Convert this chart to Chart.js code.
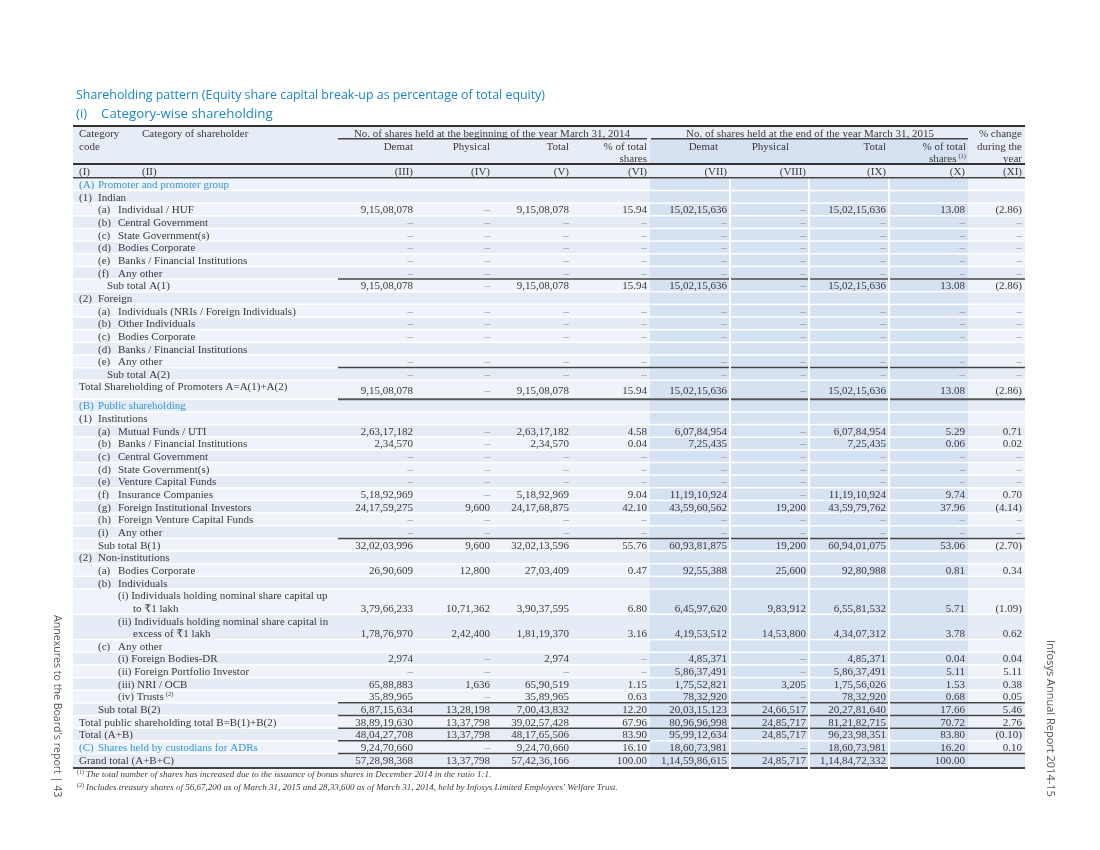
<!DOCTYPE html>
<html>
<head>
<meta charset="utf-8">
<title>Shareholding pattern</title>
<script src="https://cdn.jsdelivr.net/npm/chart.js@4.4.0/dist/chart.umd.min.js"></script>
<style>
  html, body { margin: 0; padding: 0; background: #fff; }
  #table { display: block; }
</style>
</head>
<body>
<canvas id="table" width="1100" height="850"></canvas>
<script>
const D = '–';

// row captions (category of shareholder)
const rowCodes = ['(A)','(1)','(a)','(b)','(c)','(d)','(e)','(f)','','(2)','(a)','(b)','(c)','(d)','(e)','','',
  '(B)','(1)','(a)','(b)','(c)','(d)','(e)','(f)','(g)','(h)','(i)','','(2)','(a)','(b)','','','(c)',
  '','','','','','','','(C)',''];
const rowLabels = ['Promoter and promoter group','Indian','Individual / HUF','Central Government',
  'State Government(s)','Bodies Corporate','Banks / Financial Institutions','Any other','Sub total A(1)',
  'Foreign','Individuals (NRIs / Foreign Individuals)','Other Individuals','Bodies Corporate',
  'Banks / Financial Institutions','Any other','Sub total A(2)','Total Shareholding of Promoters A=A(1)+A(2)',
  'Public shareholding','Institutions','Mutual Funds / UTI','Banks / Financial Institutions',
  'Central Government','State Government(s)','Venture Capital Funds','Insurance Companies',
  'Foreign Institutional Investors','Foreign Venture Capital Funds','Any other','Sub total B(1)',
  'Non-institutions','Bodies Corporate','Individuals',
  '(i) Individuals holding nominal share capital up\nto ₹1 lakh',
  '(ii) Individuals holding nominal share capital in\nexcess of ₹1 lakh',
  'Any other','(i) Foreign Bodies-DR','(ii) Foreign Portfolio Investor','(iii) NRI / OCB','(iv) Trusts',
  'Sub total B(2)','Total public shareholding total B=B(1)+B(2)','Total (A+B)',
  'Shares held by custodians for ADRs','Grand total (A+B+C)'];

// No. of shares held at the beginning of the year March 31, 2014
const demat14 = [null,null,'9,15,08,078',D,D,D,D,D,
  '9,15,08,078',null,D,D,D,null,D,D,
  '9,15,08,078',null,null,'2,63,17,182','2,34,570',D,D,D,
  '5,18,92,969','24,17,59,275',D,D,'32,02,03,996',null,'26,90,609',null,
  '3,79,66,233','1,78,76,970',null,'2,974',D,'65,88,883','35,89,965','6,87,15,634',
  '38,89,19,630','48,04,27,708','9,24,70,660','57,28,98,368'];
const phys14 = [null,null,D,D,D,D,D,D,
  D,null,D,D,D,null,D,D,
  D,null,null,D,D,D,D,D,
  D,'9,600',D,D,'9,600',null,'12,800',null,
  '10,71,362','2,42,400',null,D,D,'1,636',D,'13,28,198',
  '13,37,798','13,37,798',D,'13,37,798'];
const total14 = [null,null,'9,15,08,078',D,D,D,D,D,
  '9,15,08,078',null,D,D,D,null,D,D,
  '9,15,08,078',null,null,'2,63,17,182','2,34,570',D,D,D,
  '5,18,92,969','24,17,68,875',D,D,'32,02,13,596',null,'27,03,409',null,
  '3,90,37,595','1,81,19,370',null,'2,974',D,'65,90,519','35,89,965','7,00,43,832',
  '39,02,57,428','48,17,65,506','9,24,70,660','57,42,36,166'];
const pct14 = [null,null,'15.94',D,D,D,D,D,
  '15.94',null,D,D,D,null,D,D,
  '15.94',null,null,'4.58','0.04',D,D,D,
  '9.04','42.10',D,D,'55.76',null,'0.47',null,
  '6.80','3.16',null,D,D,'1.15','0.63','12.20',
  '67.96','83.90','16.10','100.00'];

// No. of shares held at the end of the year March 31, 2015
const demat15 = [null,null,'15,02,15,636',D,D,D,D,D,
  '15,02,15,636',null,D,D,D,null,D,D,
  '15,02,15,636',null,null,'6,07,84,954','7,25,435',D,D,D,
  '11,19,10,924','43,59,60,562',D,D,'60,93,81,875',null,'92,55,388',null,
  '6,45,97,620','4,19,53,512',null,'4,85,371','5,86,37,491','1,75,52,821','78,32,920','20,03,15,123',
  '80,96,96,998','95,99,12,634','18,60,73,981','1,14,59,86,615'];
const phys15 = [null,null,D,D,D,D,D,D,
  D,null,D,D,D,null,D,D,
  D,null,null,D,D,D,D,D,
  D,'19,200',D,D,'19,200',null,'25,600',null,
  '9,83,912','14,53,800',null,D,D,'3,205',D,'24,66,517',
  '24,85,717','24,85,717',D,'24,85,717'];
const total15 = [null,null,'15,02,15,636',D,D,D,D,D,
  '15,02,15,636',null,D,D,D,null,D,D,
  '15,02,15,636',null,null,'6,07,84,954','7,25,435',D,D,D,
  '11,19,10,924','43,59,79,762',D,D,'60,94,01,075',null,'92,80,988',null,
  '6,55,81,532','4,34,07,312',null,'4,85,371','5,86,37,491','1,75,56,026','78,32,920','20,27,81,640',
  '81,21,82,715','96,23,98,351','18,60,73,981','1,14,84,72,332'];
const pct15 = [null,null,'13.08',D,D,D,D,D,
  '13.08',null,D,D,D,null,D,D,
  '13.08',null,null,'5.29','0.06',D,D,D,
  '9.74','37.96',D,D,'53.06',null,'0.81',null,
  '5.71','3.78',null,'0.04','5.11','1.53','0.68','17.66',
  '70.72','83.80','16.20','100.00'];

// % change during the year
const change = [null,null,'(2.86)',D,D,D,D,D,
  '(2.86)',null,D,D,D,null,D,D,
  '(2.86)',null,null,'0.71','0.02',D,D,D,
  '0.70','(4.14)',D,D,'(2.70)',null,'0.34',null,
  '(1.09)','0.62',null,'0.04','5.11','0.38','0.05','5.46',
  '2.76','(0.10)','0.10',null];

const colNumbers = ['(I)','(II)','(III)','(IV)','(V)','(VI)','(VII)','(VIII)','(IX)','(X)','(XI)'];

// ---------- layout ----------
const valueCols = [demat14, phys14, total14, pct14, demat15, phys15, total15, pct15, change];
const colRight = [413, 490, 569, 647, 727, 806, 886, 965, 1022];
const shadeCols = [[650, 730], [730, 809], [809, 889], [889, 968]];
const rowLevel = [0,0,1,1,1,1,1,1,'sa',0,1,1,1,1,1,'sa','t',0,0,1,1,1,1,1,1,1,1,1,'sb',
  0,1,1,2,2,1,2,2,2,2,'sb','t','t',0,'t'];
const blueRows = [0, 17, 42];
const rowHeights = rowLabels.map((_, i) => i === 16 ? 1.5 : (i === 32 || i === 33 ? 2 : (i === 43 ? 1.15 : 1)));
const HEAD = 4.1;
const rowTop = [];
let acc = HEAD;
rowHeights.forEach(h => { rowTop.push(acc); acc += h; });
const Y_MAX = acc;
function rowMid(i) {
  const h = rowHeights[i];
  return i === 43 ? rowTop[i] + 0.5 : rowTop[i] + h / 2;
}
function valueY(i) {
  return rowHeights[i] === 2 ? rowTop[i] + 1.5 : rowMid(i);
}

const FS = 11;
const SERIF = '"Liberation Serif", "DejaVu Serif", serif';
const SANS = '"Open Sans", "Noto Sans", sans-serif';
const TXT = '#3a3a3a';
const DASH = '#8a8a8a';
const BLUE = '#3597d6';
const TITLE_BLUE = '#1b86c9';

const datasets = valueCols.map((col, c) => ({
  data: col.map((v, i) => v === null ? null : { x: colRight[c], y: valueY(i), t: v }).filter(Boolean),
  pointRadius: 0,
  pointHoverRadius: 0
}));

const tablePlugin = {
  id: 'tablePlugin',
  beforeDatasetsDraw(chart) {
    const ctx = chart.ctx, x = chart.scales.x, y = chart.scales.y;
    const L = x.getPixelForValue(73), R = x.getPixelForValue(1025);
    const py = v => y.getPixelForValue(v);
    ctx.save();
    // header background
    ctx.fillStyle = '#e7edf7';
    ctx.fillRect(L, py(0), R - L, py(HEAD) - py(0));
    ctx.fillStyle = '#d6e1f2';
    ctx.fillRect(x.getPixelForValue(650), py(1.05), x.getPixelForValue(968) - x.getPixelForValue(650), py(3) - py(1.05));
    // data rows
    rowTop.forEach((t, i) => {
      const top = py(t), bot = py(t + rowHeights[i]);
      ctx.fillStyle = i % 2 === 0 ? '#eff3fa' : '#e5ecf6';
      ctx.fillRect(L, top, R - L, bot - top);
      ctx.fillStyle = '#d6e1f2';
      shadeCols.forEach(([a, b]) => {
        ctx.fillRect(x.getPixelForValue(a), top, x.getPixelForValue(b) - x.getPixelForValue(a), bot - top);
      });
      ctx.fillStyle = '#ffffff';
      ctx.fillRect(L, top - 0.75, R - L, 1.5);
    });
    // rules
    const rule = (yv, x0, x1, w, col) => {
      ctx.strokeStyle = col; ctx.lineWidth = w;
      ctx.beginPath();
      ctx.moveTo(x.getPixelForValue(x0), py(yv));
      ctx.lineTo(x.getPixelForValue(x1), py(yv));
      ctx.stroke();
    };
    rule(0, 73, 1025, 2, '#333');
    rule(1.0, 338, 647, 1.5, '#444');
    rule(1.0, 651, 968, 1.5, '#444');
    rule(3, 73, 1025, 2, '#333');
    rule(HEAD, 73, 1025, 1.5, '#444');
    [8, 15, 28, 39, 40, 41, 43].forEach(r => rule(rowTop[r], 338, 1025, 1.5, '#444'));
    rule(rowTop[42], 338, 650, 1.5, '#444');
    rule(rowTop[16] + rowHeights[16], 338, 1025, 2, '#555');
    rule(Y_MAX, 73, 1025, 2, '#444');
    // white column separators in the shaded block
    ctx.fillStyle = '#ffffff';
    [730, 809, 889].forEach(v => {
      ctx.fillRect(x.getPixelForValue(v) - 1, py(HEAD) + 1, 2, py(Y_MAX) - py(HEAD) + 1);
    });
    ctx.restore();
  },
  afterDatasetsDraw(chart) {
    const ctx = chart.ctx, x = chart.scales.x, y = chart.scales.y;
    const py = v => y.getPixelForValue(v) + 1;
    const px = v => x.getPixelForValue(v);
    const F = FS + 'px ' + SERIF;
    ctx.save();
    ctx.textBaseline = 'middle';
    ctx.font = F;

    // cell values
    chart.data.datasets.forEach((ds, di) => {
      const meta = chart.getDatasetMeta(di);
      ctx.textAlign = 'right';
      meta.data.forEach((pt, k) => {
        const t = ds.data[k].t;
        ctx.fillStyle = t === D ? DASH : TXT;
        ctx.fillText(t, pt.x, pt.y + 1);
      });
    });

    // row captions
    ctx.textAlign = 'left';
    rowLabels.forEach((lab, i) => {
      const lv = rowLevel[i];
      let codeX = 79, textX = 98;
      if (lv === 1) { codeX = 98; textX = 118; }
      if (lv === 2) textX = 118;
      if (lv === 'sa') textX = 107;
      if (lv === 'sb') textX = 98;
      if (lv === 't') textX = 79;
      ctx.fillStyle = blueRows.includes(i) ? BLUE : TXT;
      const lines = lab.split('\n');
      let yc = rowMid(i);
      if (rowHeights[i] === 1.5) yc = rowTop[i] + 0.45;
      if (lines.length === 2) {
        ctx.fillText(lines[0], px(textX), py(rowTop[i] + 0.5));
        ctx.fillText(lines[1], px(133), py(rowTop[i] + 1.5));
      } else {
        if (rowCodes[i]) ctx.fillText(rowCodes[i], px(codeX), py(yc));
        ctx.fillText(lab, px(textX), py(yc));
        if (i === 38) {
          const w = ctx.measureText(lab).width;
          ctx.font = '6.5px ' + SERIF;
          ctx.fillText('(2)', px(textX) + w + 2, py(yc) - 3);
          ctx.font = F;
        }
      }
    });

    // header
    ctx.fillStyle = TXT;
    ctx.fillText('Category', px(79), py(0.55));
    ctx.fillText('code', px(79), py(1.57));
    ctx.fillText('Category of shareholder', px(142), py(0.55));
    ctx.textAlign = 'center';
    ctx.fillText('No. of shares held at the beginning of the year March 31, 2014', px(492), py(0.55));
    ctx.fillText('No. of shares held at the end of the year March 31, 2015', px(810), py(0.55));
    ctx.textAlign = 'right';
    const heads = ['Demat', 'Physical', 'Total', '% of total', 'Demat', 'Physical', 'Total', '% of total', 'during the'];
    const headRight = [413, 490, 569, 647, 718, 789, 886, 966, 1022];
    heads.forEach((h, k) => ctx.fillText(h, px(headRight[k]), py(1.57)));
    ctx.fillText('% change', px(1022), py(0.55));
    ctx.fillText('shares', px(647), py(2.52));
    ctx.fillText('year', px(1022), py(2.52));
    ctx.font = '6.5px ' + SERIF;
    const supW = ctx.measureText('(1)').width;
    ctx.fillText('(1)', px(966), py(2.52) - 3);
    ctx.font = F;
    ctx.fillText('shares', px(966) - supW - 2, py(2.52));
    // column numbers row
    ctx.textAlign = 'left';
    ctx.fillText(colNumbers[0], px(79), py(3.55));
    ctx.fillText(colNumbers[1], px(142), py(3.55));
    ctx.textAlign = 'right';
    colRight.forEach((r, k) => ctx.fillText(colNumbers[k + 2], px(r), py(3.55)));

    // titles
    ctx.textAlign = 'left';
    ctx.fillStyle = TITLE_BLUE;
    ctx.font = '12.4px ' + SANS;
    ctx.fillText('Shareholding pattern (Equity share capital break-up as percentage of total equity)', 76, 95);
    ctx.font = '13.3px ' + SANS;
    ctx.fillText('(i)', 76, 114);
    ctx.fillText('Category-wise shareholding', 101, 114);

    // footnotes
    const fy = chart.chartArea.bottom;
    ctx.fillStyle = TXT;
    ctx.font = '6px ' + SERIF;
    ctx.fillText('(1)', 77, fy + 4);
    ctx.fillText('(2)', 77, fy + 17);
    ctx.font = 'italic 9px ' + SERIF;
    ctx.fillText('The total number of shares has increased due to the issuance of bonus shares in December 2014 in the ratio 1:1.', 86, fy + 7);
    ctx.fillText('Includes treasury shares of 56,67,200 as of March 31, 2015 and 28,33,600 as of March 31, 2014, held by Infosys Limited Employees\' Welfare Trust.', 86, fy + 20);

    // side texts
    ctx.fillStyle = '#555';
    ctx.save();
    ctx.font = '10.6px ' + SANS;
    ctx.translate(57, 615);
    ctx.rotate(Math.PI / 2);
    ctx.fillText('Annexures to the Board\'s report | 43', 0, 0);
    ctx.restore();
    ctx.save();
    ctx.font = '11px ' + SANS;
    ctx.translate(1050, 640);
    ctx.rotate(Math.PI / 2);
    ctx.fillText('Infosys Annual Report 2014-15', 0, 0);
    ctx.restore();

    ctx.restore();
  }
};

new Chart(document.getElementById('table'), {
  type: 'scatter',
  data: { datasets: datasets },
  options: {
    responsive: false,
    animation: false,
    devicePixelRatio: 1,
    events: [],
    layout: { padding: { left: 73, right: 75, top: 126, bottom: 82 } },
    scales: {
      x: { type: 'linear', min: 73, max: 1025, display: false },
      y: { type: 'linear', min: 0, max: Y_MAX, reverse: true, display: false }
    },
    plugins: { legend: { display: false }, tooltip: { enabled: false } }
  },
  plugins: [tablePlugin]
});
</script>
</body>
</html>
